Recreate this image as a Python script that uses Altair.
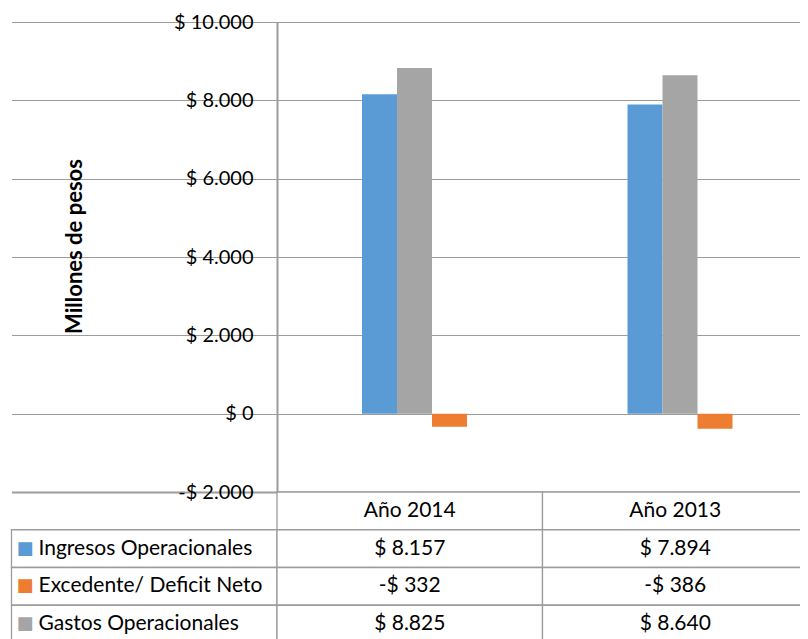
import altair as alt
import pandas as pd

# ---------------- data ----------------
categories = ["Año 2014", "Año 2013"]
series_names = ["Ingresos Operacionales", "Excedente/ Deficit Neto", "Gastos Operacionales"]
ingresos = [8157, 7894]
excedente = [-332, -386]
gastos = [8825, 8640]
series_colors = ["#5B9BD5", "#ED7D31", "#A5A5A5"]
bar_order = ["Ingresos Operacionales", "Gastos Operacionales", "Excedente/ Deficit Neto"]
tick_values = [-2000, 0, 2000, 4000, 6000, 8000, 10000]
tick_labels = ["-$ 2.000", "$ 0", "$ 2.000", "$ 4.000", "$ 6.000", "$ 8.000", "$ 10.000"]
y_title = "Millones de pesos"

values_by_series = dict(zip(series_names, [ingresos, excedente, gastos]))


def money(v):
    s = f"{abs(v):,}".replace(",", ".")
    return ("-$ " if v < 0 else "$ ") + s


LEG = "leyenda"
HDR = "encabezado"
col_domain = [LEG] + categories
row_domain = [HDR] + series_names

bars_df = pd.DataFrame(
    [{"col": c, "serie": s, "valor": v}
     for s in series_names for c, v in zip(categories, values_by_series[s])]
)

cells = []
for c in categories:
    cells.append({"col": c, "row": HDR, "texto": c})
for s in series_names:
    cells.append({"col": LEG, "row": s, "texto": s})
    for c, v in zip(categories, values_by_series[s]):
        cells.append({"col": c, "row": s, "texto": money(v)})
cells_df = pd.DataFrame(cells)

# ---------------- layout ----------------
PLOT_W = 531          # full width of the two category columns
VIEW_W = 523          # visible part (page stops at the window edge)
H = 470
FONT = "Lato"
GRID = "#9C9C9C"

label_expr = " : ".join(
    f"datum.value == {v} ? '{t}'" for v, t in zip(tick_values, tick_labels)
) + " : ''"

x_scale = alt.Scale(domain=col_domain, range=[-265.5, PLOT_W], paddingInner=0, paddingOuter=0)
row_scale = alt.Scale(domain=row_domain, range=[H, 621], paddingInner=0, paddingOuter=0)
color_scale = alt.Scale(domain=series_names, range=series_colors)

bars = alt.Chart(bars_df).mark_bar().encode(
    x=alt.X("col:N", scale=x_scale, axis=None),
    xOffset=alt.XOffset("serie:N", sort=bar_order,
                        scale=alt.Scale(domain=bar_order, range=[85, 190],
                                        paddingInner=0, paddingOuter=0)),
    y=alt.Y("valor:Q",
            scale=alt.Scale(domain=[-2000, 10000], nice=False, zero=False),
            axis=alt.Axis(values=tick_values, labelExpr=label_expr, grid=True,
                          gridColor=GRID,
                          gridWidth={"condition": {"test": "datum.value == -2000", "value": 2}, "value": 1},
                          domainColor=GRID, domainWidth=2, ticks=False,
                          labelPadding=24, labelFont=FONT, labelFontSize=20,
                          labelColor="black",
                          title=y_title, titleFont=FONT, titleFontSize=22,
                          titleFontWeight="bold", titleColor="black",
                          titleAngle=270, titleX=-203, titleY=224,
                          titleAlign="center", titleBaseline="middle")),
    color=alt.Color("serie:N", scale=color_scale, legend=None),
)

table_rects = alt.Chart(cells_df).mark_rect(
    fill="white", stroke=GRID, strokeWidth=1.3
).encode(
    x=alt.X("col:N", scale=x_scale, axis=None),
    y=alt.Y("row:N", scale=row_scale, axis=None),
)

value_text = alt.Chart(cells_df).transform_filter(
    f"datum.col != '{LEG}'"
).mark_text(font=FONT, fontSize=21, color="black", align="center", baseline="middle").encode(
    x=alt.X("col:N", scale=x_scale, axis=None),
    y=alt.Y("row:N", scale=row_scale, axis=None),
    text="texto:N",
)

legend_text = alt.Chart(cells_df).transform_filter(
    f"datum.col == '{LEG}'"
).mark_text(font=FONT, fontSize=21, color="black", align="left", baseline="middle", dx=27).encode(
    x=alt.X("col:N", scale=x_scale, axis=None, bandPosition=0),
    y=alt.Y("row:N", scale=row_scale, axis=None),
    text="texto:N",
)

legend_squares = alt.Chart(cells_df).transform_filter(
    f"datum.col == '{LEG}'"
).mark_text(text="■", font="DejaVu Sans", fontSize=18, align="center", baseline="middle", dx=13.5).encode(
    x=alt.X("col:N", scale=x_scale, axis=None, bandPosition=0),
    y=alt.Y("row:N", scale=row_scale, axis=None),
    color=alt.Color("row:N", scale=color_scale, legend=None),
)

chart = alt.layer(
    bars, table_rects, value_text, legend_text, legend_squares
).resolve_scale(
    y="independent"
).properties(
    width=VIEW_W, height=H,
    autosize=alt.AutoSizeParams(type="none"),
    padding={"left": 269, "top": 14, "right": 0, "bottom": 153},
    background="white",
).configure_view(stroke=None)

chart.save("out.html", embed_options={"renderer": "svg", "actions": False})
